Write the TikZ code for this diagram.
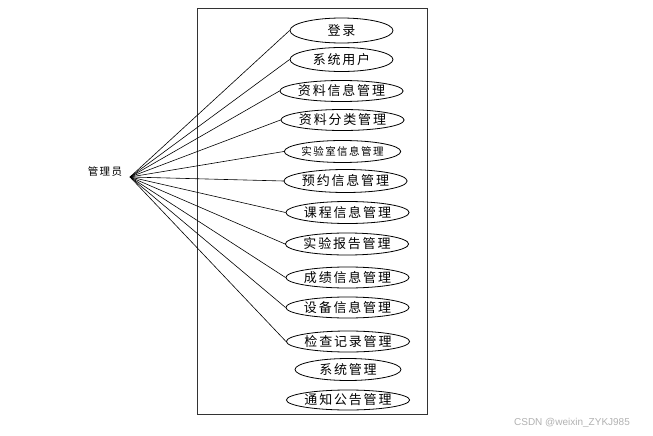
\documentclass[tikz,border=0pt]{standalone}
\usepackage{fontspec}
\newfontfamily\cjk[LetterSpace=14]{Noto Sans CJK SC}
\setsansfont{Liberation Sans}
\usetikzlibrary{shapes.geometric}
\tikzset{
  uc/.style={draw=black, line width=0.8pt, ellipse, inner sep=0pt, font=\cjk\fontsize{13}{14}\selectfont},
  assoc/.style={draw=black, line width=0.6pt},
}
\begin{document}
\begin{tikzpicture}[x=1pt,y=-1pt]
\useasboundingbox[fill=white] (0,0) rectangle (653,436);
\node[draw=black!80, line width=1pt, minimum width=230pt, minimum height=406pt, inner sep=0pt, anchor=north west] (sys) at (197,8) {};
\coordinate (act) at (130,177);
\node[font=\cjk\fontsize{10.5}{12}\selectfont] (actor) at (105,172) {管理员};
\node[uc, minimum width=103pt, minimum height=25pt] (u1) at (341.5,30.5) {登录};
\node[uc, minimum width=103pt, minimum height=24pt] (u2) at (341.5,59.5) {系统用户};
\node[uc, minimum width=107pt, minimum height=21pt] (u3) at (341.5,91) {资料信息管理};
\node[uc, minimum width=105pt, minimum height=21pt] (u4) at (342.5,120) {资料分类管理};
\node[uc, minimum width=109pt, minimum height=22pt, font=\cjk\fontsize{10.5}{12}\selectfont] (u5) at (342.5,151.5) {实验室信息管理};
\node[uc, minimum width=105pt, minimum height=23pt] (u6) at (345.5,181) {预约信息管理};
\node[uc, minimum width=103pt, minimum height=22pt] (u7) at (347.5,212.5) {课程信息管理};
\node[uc, minimum width=104pt, minimum height=22pt] (u8) at (347,244) {实验报告管理};
\node[uc, minimum width=105pt, minimum height=21pt] (u9) at (347.5,277.5) {成绩信息管理};
\node[uc, minimum width=105pt, minimum height=21pt] (u10) at (347.5,307.5) {设备信息管理};
\node[uc, minimum width=106pt, minimum height=21pt] (u11) at (348,341.5) {检查记录管理};
\node[uc, minimum width=106pt, minimum height=22pt] (u12) at (348,369.5) {系统管理};
\node[uc, minimum width=107pt, minimum height=20pt] (u13) at (348,400) {通知公告管理};
\foreach \i in {1,...,11}{
  \draw[assoc] (act) -- (u\i.west);
}
\node[font=\sffamily\fontsize{10}{11}\selectfont, text=black!30] (wm) at (572,423) {CSDN @weixin\_ZYKJ985};
\end{tikzpicture}
\end{document}
